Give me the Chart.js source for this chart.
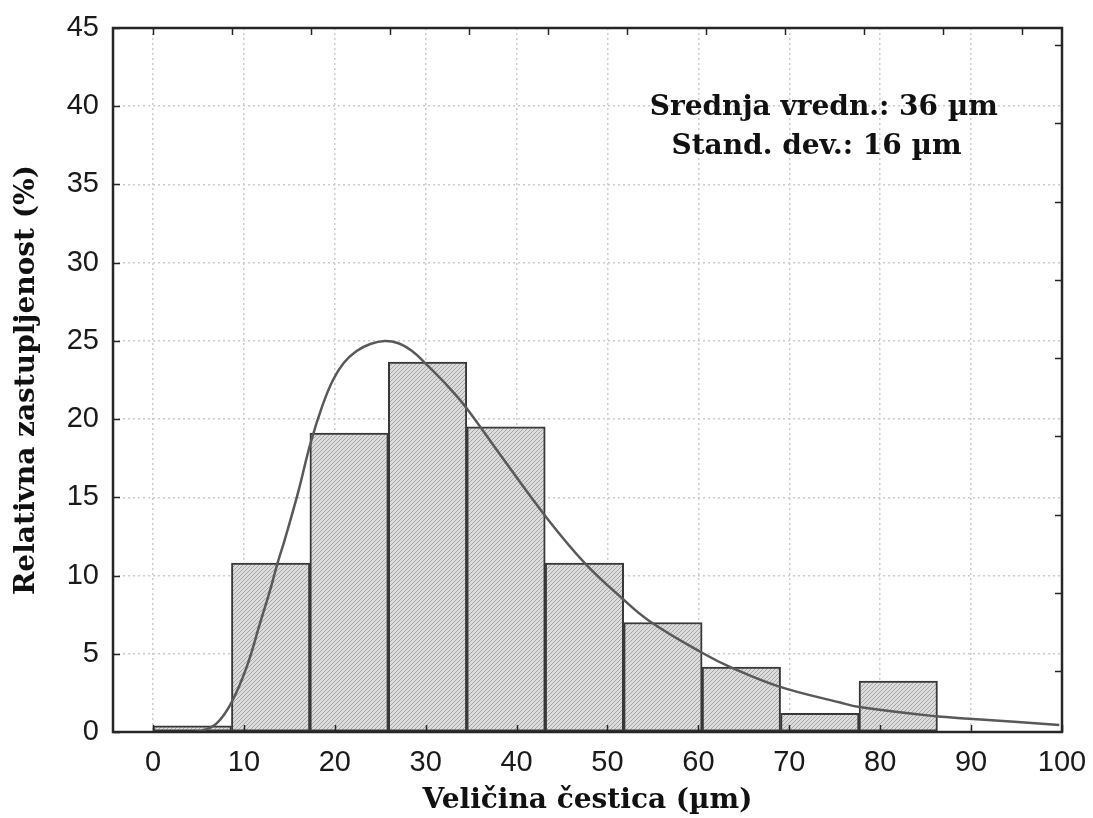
<!DOCTYPE html>
<html>
<head>
<meta charset="utf-8">
<title>Veličina čestica</title>
<script src="https://cdn.jsdelivr.net/npm/chart.js@4.4.1/dist/chart.umd.min.js"></script>
<style>
  html, body { margin: 0; padding: 0; background: #fff; }
  #wrap { width: 1093px; height: 818px; }
</style>
</head>
<body>
<div id="wrap"><canvas id="grafico" width="1093" height="818"></canvas></div>
<script>
// Histogram: left/right edges of the bins (µm) and their share (%)
const binEdges = [0, 8.63, 17.26, 25.89, 34.52, 43.15, 51.78, 60.41, 69.04, 77.67, 86.3];
const binValues = [0.4, 10.8, 19.1, 23.65, 19.5, 10.8, 7.0, 4.15, 1.2, 3.25];

// Fitted distribution curve
const curveX = [4.5, 5.5, 7.0, 8.6, 10.3, 11.8, 12.9, 13.7, 14.5, 16.0, 17.3, 18.6, 19.8, 21.0, 22.4, 23.9, 25.5, 27.0, 28.5, 29.9, 32.6, 34.5, 38.1, 43.3, 47.5, 51.6, 54.6, 60.3, 63.7, 68.9, 75.5, 77.7, 86.2, 89.8, 99.7];
const curveY = [0, 0.1, 0.55, 1.85, 4.15, 7.0, 9.1, 10.8, 12.3, 15.4, 18.4, 20.8, 22.5, 23.6, 24.35, 24.8, 25.0, 24.85, 24.35, 23.6, 22.0, 20.7, 17.8, 13.7, 10.8, 8.55, 7.1, 5.1, 4.1, 2.9, 1.9, 1.6, 1.0, 0.85, 0.45];

// Axis ticks
const xTicks = [0, 10, 20, 30, 40, 50, 60, 70, 80, 90, 100];
const yTicks = [0, 5, 10, 15, 20, 25, 30, 35, 40, 45];
const topTicks = [0, 8.69, 17.38, 26.07, 34.76, 43.45, 52.14, 60.83, 69.52, 78.21, 86.9, 95.6];
const rightTicks = [3.9, 8.9, 13.9, 18.9, 23.9, 28.9, 33.9, 38.9, 43.9];

const annotLines = ["Srednja vredn.: 36 µm", "Stand. dev.: 16 µm"];

// bar centres from the bin edges
const barData = binValues.map((v, i) => ({ x: (binEdges[i] + binEdges[i + 1]) / 2, y: v }));
const curveData = curveX.map((x, i) => ({ x: x, y: curveY[i] }));

// hatched grey fill like the original figure
function makeHatch() {
    const c = document.createElement("canvas");
    c.width = 4; c.height = 4;
    const g = c.getContext("2d");
    g.fillStyle = "#dcdcdc";
    g.fillRect(0, 0, 4, 4);
    g.strokeStyle = "#a6a6a6";
    g.lineWidth = 1;
    g.beginPath();
    g.moveTo(0, 4); g.lineTo(4, 0);
    g.moveTo(-1, 1); g.lineTo(1, -1);
    g.moveTo(3, 5); g.lineTo(5, 3);
    g.stroke();
    return g.createPattern(c, "repeat");
}

// frame with inward tick marks on all four sides
const frameTicks = {
    id: "frameTicks",
    afterDatasetsDraw(chart) {
        const { ctx, chartArea: a, scales: { x, y } } = chart;
        ctx.save();
        ctx.strokeStyle = "#262626";
        ctx.lineWidth = 1.5;
        ctx.beginPath();
        xTicks.forEach(v => {
            const px = Math.round(x.getPixelForValue(v)) + 0.5;
            ctx.moveTo(px, a.bottom); ctx.lineTo(px, a.bottom - 7);
        });
        topTicks.forEach(v => {
            const px = Math.round(x.getPixelForValue(v)) + 0.5;
            ctx.moveTo(px, a.top); ctx.lineTo(px, a.top + 7);
        });
        yTicks.forEach(v => {
            const py = Math.round(y.getPixelForValue(v)) + 0.5;
            ctx.moveTo(a.left, py); ctx.lineTo(a.left + 7, py);
        });
        rightTicks.forEach(v => {
            const py = Math.round(y.getPixelForValue(v)) + 0.5;
            ctx.moveTo(a.right, py); ctx.lineTo(a.right - 7, py);
        });
        ctx.stroke();
        ctx.lineWidth = 2.5;
        ctx.strokeRect(a.left, a.top, a.right - a.left, a.bottom - a.top);
        ctx.restore();
    }
};

// mean / std dev text in the upper right
const annotacija = {
    id: "annotacija",
    afterDraw(chart) {
        const { ctx, scales: { x, y } } = chart;
        ctx.save();
        ctx.fillStyle = "#111";
        ctx.font = "bold 28px 'DejaVu Serif'";
        ctx.textAlign = "center";
        ctx.textBaseline = "alphabetic";
        ctx.fillText(annotLines[0], x.getPixelForValue(73.8), y.getPixelForValue(39.45));
        ctx.fillText(annotLines[1], x.getPixelForValue(73.0), y.getPixelForValue(36.95));
        ctx.restore();
    }
};

const tickFont = { family: "'Liberation Sans', Arial, sans-serif", size: 29 };
const titleFont = { family: "'DejaVu Serif', serif", size: 28, weight: "bold" };

new Chart(document.getElementById("grafico"), {
    type: "bar",
    data: {
        datasets: [
            {
                type: "line",
                data: curveData,
                borderColor: "#595959",
                borderWidth: 2.5,
                pointRadius: 0,
                fill: false,
                tension: 0.4,
                order: 0
            },
            {
                type: "bar",
                data: barData,
                backgroundColor: makeHatch(),
                borderColor: "#383838",
                borderWidth: 2,
                borderSkipped: false,
                barPercentage: 1,
                categoryPercentage: 1,
                order: 1
            }
        ]
    },
    options: {
        responsive: false,
        animation: false,
        layout: { padding: { left: 0, right: 31, top: 28, bottom: 0 } },
        plugins: {
            legend: { display: false },
            tooltip: { enabled: false }
        },
        scales: {
            x: {
                type: "linear",
                min: -4.4,
                max: 100,
                offset: false,
                afterBuildTicks: s => { s.ticks = xTicks.map(v => ({ value: v })); },
                afterFit: s => { s.height = 86; s.paddingLeft = 0; s.paddingRight = 0; },
                grid: { offset: false, color: "#cccccc", lineWidth: 1.5, drawTicks: false },
                border: { display: false, dash: [2, 3] },
                ticks: { color: "#1a1a1a", font: tickFont, padding: 14, maxRotation: 0, autoSkip: false },
                title: { display: true, text: "Veličina čestica (µm)", color: "#111", font: titleFont, padding: { top: 0, bottom: 0 } }
            },
            y: {
                type: "linear",
                min: 0,
                max: 45,
                afterBuildTicks: s => { s.ticks = yTicks.map(v => ({ value: v })); },
                afterFit: s => { s.width = 113; s.paddingTop = 0; s.paddingBottom = 0; },
                grid: { color: "#cccccc", lineWidth: 1.5, drawTicks: false },
                border: { display: false, dash: [2, 3] },
                ticks: { color: "#1a1a1a", font: tickFont, padding: 14 },
                title: { display: true, text: "Relativna zastupljenost (%)", color: "#111", font: titleFont, padding: { top: 10, bottom: 0 } }
            }
        }
    },
    plugins: [frameTicks, annotacija]
});
</script>
</body>
</html>
